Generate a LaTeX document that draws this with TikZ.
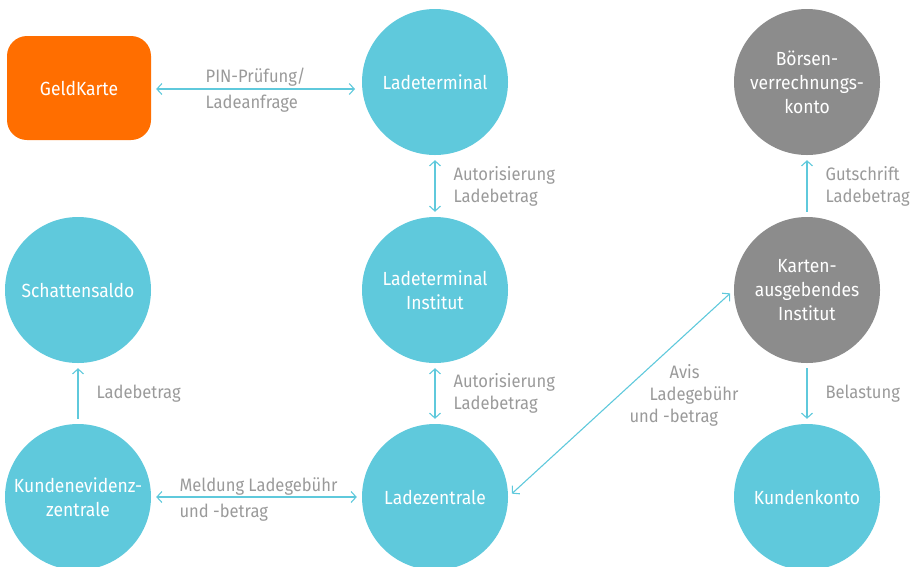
\documentclass[tikz,border=0pt]{standalone}
\usepackage{fontspec}
\setmainfont[FakeStretch=0.92]{Fira Sans}
\usetikzlibrary{arrows.meta}
\definecolor{cy}{HTML}{5FC9DC}
\definecolor{og}{HTML}{FF6E00}
\definecolor{gr}{HTML}{8C8C8C}
\definecolor{tx}{HTML}{9A9A9A}
\begin{document}
\begin{tikzpicture}[x=1pt,y=-1pt,
  circ/.style={circle, fill=cy, minimum size=146pt, inner sep=0pt, text=white, align=center, font=\fontsize{19}{24}\selectfont},
  gcirc/.style={circ, fill=gr},
  card/.style={rectangle, rounded corners=20pt, fill=og, minimum width=144pt, minimum height=104pt, text=white, font=\fontsize{19}{24}\selectfont},
  arr/.style={draw=cy, line width=1.1pt, {Straight Barb[length=5pt,width=11pt]}-{Straight Barb[length=5pt,width=11pt]}, shorten <=5pt, shorten >=5pt},
  arrone/.style={draw=cy, line width=1.1pt, -{Straight Barb[length=5pt,width=11pt]}, shorten <=5pt, shorten >=5pt},
  lbl/.style={text=tx, align=left, font=\fontsize{18}{22}\selectfont, inner sep=2pt},
  wide/.style={font=\fontsize{18}{26}\selectfont}]
\useasboundingbox (0,0) rectangle (920,566);
\node[card] (gk) at (79,88) {GeldKarte};
\node[circ] (lt) at (435,82) {Ladeterminal};
\node[circ] (lti) at (435,290) {Ladeterminal\\Institut};
\node[circ] (lz) at (435,497) {Ladezentrale};
\node[circ] (ss) at (78,290) {Schattensaldo};
\node[circ] (kez) at (78,497) {Kundenevidenz-\\zentrale};
\node[gcirc] (bvk) at (807,82) {Börsen-\\verrechnungs-\\konto};
\node[gcirc] (ki) at (807,290) {Karten-\\ausgebendes\\Institut};
\node[circ] (kk) at (807,497) {Kundenkonto};
\coordinate (a1) at (gk.east |- 0,89);
\coordinate (a2) at (360,89);
\draw[arr] (a1) -- (a2) node[midway, lbl, wide, yshift=-1pt] {PIN-Prüfung/\\Ladeanfrage};
\draw[arr] (lt.south) -- (lti.north) node[midway, lbl, anchor=west, xshift=16pt] {Autorisierung\\Ladebetrag};
\draw[arr] (lti.south) -- (lz.north) node[midway, lbl, anchor=west, xshift=16pt] {Autorisierung\\Ladebetrag};
\draw[arrone] (kez.north) -- (ss.south) node[midway, lbl, anchor=west, xshift=16pt] {Ladebetrag};
\draw[arr] (kez.east) -- (lz.west) node[midway, lbl, wide, xshift=2pt, yshift=-2pt] {Meldung Ladegebühr\\und -betrag};
\draw[arr] (lz.east) -- (ki.west) node[midway, lbl, anchor=west, xshift=6pt, yshift=-2pt] {\hspace*{40pt}Avis\\\hspace*{20pt}Ladegebühr\\und -betrag};
\draw[arrone] (ki.north) -- (bvk.south) node[midway, lbl, anchor=west, xshift=16pt] {Gutschrift\\Ladebetrag};
\draw[arrone] (ki.south) -- (kk.north) node[midway, lbl, anchor=west, xshift=16pt] {Belastung};
\end{tikzpicture}
\end{document}
